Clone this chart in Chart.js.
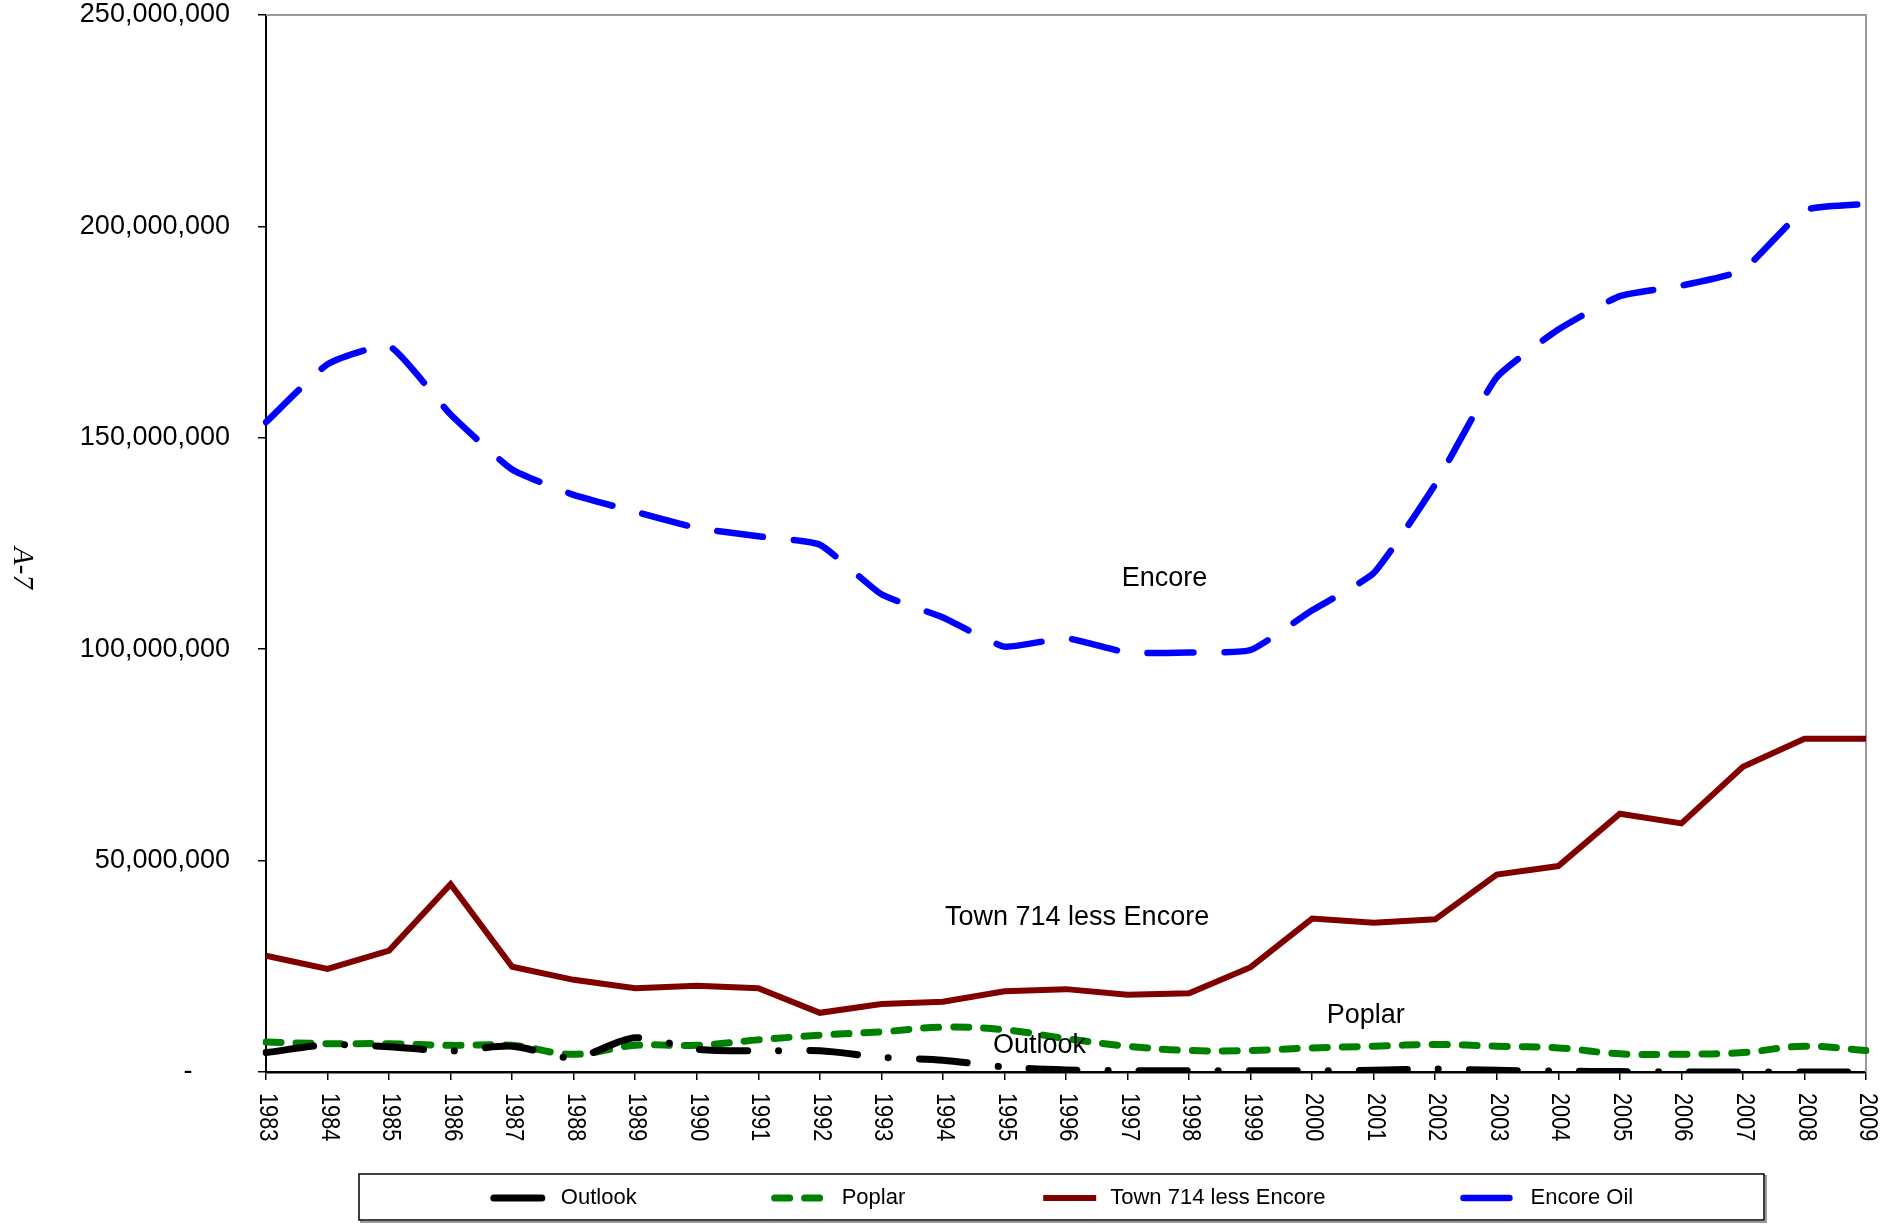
<!DOCTYPE html>
<html>
<head>
<meta charset="utf-8">
<title>Outlook, Poplar, Town 714 less Encore, Encore Oil</title>
<script src="https://cdn.jsdelivr.net/npm/chart.js@4.4.1/dist/chart.umd.min.js"></script>
<style>
  html, body { margin: 0; padding: 0; background: #fff; }
  canvas { display: block; }
</style>
</head>
<body>
<canvas id="chart" width="1902" height="1225"></canvas>
<script>
// categories (x axis)
const years = ['1983', '1984', '1985', '1986', '1987', '1988', '1989', '1990', '1991',
  '1992', '1993', '1994', '1995', '1996', '1997', '1998', '1999', '2000', '2001',
  '2002', '2003', '2004', '2005', '2006', '2007', '2008', '2009'];

// series values
const outlook = [4600000, 6400000, 6000000, 5000000, 6100000, 3400000, 8100000, 5400000,
  5000000, 5000000, 3500000, 2800000, 1200000, 500000, 300000, 300000, 300000, 300000,
  400000, 700000, 400000, 200000, 100000, 0, 0, 0, 0];
const poplar = [7100000, 6700000, 6700000, 6300000, 6300000, 4200000, 6300000, 6300000,
  7600000, 8700000, 9500000, 10600000, 10000000, 7900000, 6100000, 5100000, 5100000,
  5700000, 6100000, 6500000, 6100000, 5700000, 4300000, 4200000, 4600000, 6100000, 5100000];
const town714 = [27500000, 24400000, 28700000, 44400000, 24900000, 21800000, 19800000,
  20400000, 19800000, 14000000, 16100000, 16600000, 19100000, 19600000, 18300000,
  18600000, 24800000, 36300000, 35300000, 36100000, 46700000, 48700000, 61100000,
  58800000, 72200000, 78800000, 78800000];
const encoreOil = [153700000, 167400000, 171700000, 155500000, 142500000, 136500000,
  132500000, 128700000, 126700000, 124700000, 113000000, 107500000, 100600000,
  102600000, 99200000, 99200000, 99800000, 109200000, 118000000, 139000000, 164300000,
  175600000, 183500000, 186000000, 189700000, 203800000, 205300000];

// y axis range / tick step
const yMax = 250000000;
const yStep = 50000000;

// text notes placed inside the plot (category index, value)
const noteText = ['Encore', 'Town 714 less Encore', 'Poplar', 'Outlook'];
const noteX = [14.6, 13.18, 17.87, 12.57];
const noteY = [116700000, 36600000, 13400000, 6200000];

const sideLabel = 'A-7';

const SANS = '"Liberation Sans", Arial, sans-serif';

// grey frame on the top and right side of the plot area
const framePlugin = {
  id: 'frame',
  beforeDatasetsDraw(chart) {
    const { ctx, chartArea: a } = chart;
    ctx.save();
    ctx.strokeStyle = '#9a9a9a';
    ctx.lineWidth = 2;
    ctx.beginPath();
    ctx.moveTo(a.left, a.top);
    ctx.lineTo(a.right, a.top);
    ctx.lineTo(a.right, a.bottom);
    ctx.stroke();
    ctx.restore();
  }
};

// year labels, turned to read top to bottom (a bit condensed like the original)
const yearLabelsPlugin = {
  id: 'yearLabels',
  afterDraw(chart) {
    const { ctx, chartArea: a } = chart;
    const xs = chart.scales.x;
    ctx.save();
    ctx.fillStyle = '#000';
    ctx.font = '25px ' + SANS;
    ctx.textAlign = 'left';
    ctx.textBaseline = 'middle';
    years.forEach((y, i) => {
      ctx.save();
      ctx.translate(xs.getPixelForValue(i) + 1, a.bottom + 21);
      ctx.rotate(Math.PI / 2);
      ctx.scale(0.87, 1);
      ctx.fillText(y, 0, 0);
      ctx.restore();
    });
    ctx.restore();
  }
};

// series names written in the plot + the "A-7" page mark
const notesPlugin = {
  id: 'notes',
  afterDraw(chart) {
    const { ctx } = chart;
    const xs = chart.scales.x, ys = chart.scales.y;
    ctx.save();
    ctx.fillStyle = '#000';
    ctx.font = '27px ' + SANS;
    ctx.textAlign = 'center';
    ctx.textBaseline = 'middle';
    noteText.forEach((t, i) => {
      ctx.fillText(t, xs.getPixelForValue(noteX[i]), ys.getPixelForValue(noteY[i]));
    });
    ctx.translate(22, 568);
    ctx.rotate(Math.PI / 2);
    ctx.font = 'italic 29px "Liberation Serif", "Times New Roman", serif';
    ctx.fillText(sideLabel, 0, 0);
    ctx.restore();
  }
};

// boxed legend under the chart
const boxLegendPlugin = {
  id: 'boxLegend',
  afterDraw(chart) {
    const { ctx } = chart;
    const box = { left: 359, top: 1174, width: 1405, height: 46 };
    const sample = 61, gap = 10, spacing = 134;
    ctx.save();
    ctx.strokeStyle = '#9a9a9a';
    ctx.lineWidth = 2;
    ctx.strokeRect(box.left + 2, box.top + 2, box.width, box.height);
    ctx.fillStyle = '#fff';
    ctx.fillRect(box.left, box.top, box.width, box.height);
    ctx.strokeStyle = '#000';
    ctx.lineWidth = 1.5;
    ctx.strokeRect(box.left, box.top, box.width, box.height);

    ctx.font = '22px ' + SANS;
    const sets = chart.data.datasets;
    const widths = sets.map(d => ctx.measureText(d.label).width);
    const total = widths.reduce((s, w) => s + w, 0) + sets.length * (sample + gap) + (sets.length - 1) * spacing;
    let x = box.left + (box.width - total) / 2;
    const cy = box.top + box.height / 2 + 1;
    sets.forEach((d, i) => {
      ctx.save();
      ctx.strokeStyle = d.borderColor;
      ctx.lineWidth = d.borderWidth;
      ctx.lineCap = d.borderCapStyle || 'butt';
      ctx.setLineDash(d.borderDash || []);
      ctx.beginPath();
      ctx.moveTo(x + 4, cy);
      ctx.lineTo(x + sample - 4, cy);
      ctx.stroke();
      ctx.restore();
      ctx.fillStyle = '#000';
      ctx.textAlign = 'left';
      ctx.textBaseline = 'middle';
      ctx.fillText(d.label, x + sample + gap, cy);
      x += sample + gap + widths[i] + spacing;
    });
    ctx.restore();
  }
};

new Chart(document.getElementById('chart'), {
  type: 'line',
  data: {
    labels: years,
    datasets: [
      {
        label: 'Outlook', data: outlook,
        borderColor: '#000000', borderWidth: 7, borderCapStyle: 'round',
        borderDash: [48, 31, 0.1, 31], tension: 0.3, pointRadius: 0
      },
      {
        label: 'Poplar', data: poplar,
        borderColor: '#008000', borderWidth: 7, borderCapStyle: 'round',
        borderDash: [15, 15], tension: 0.4, pointRadius: 0
      },
      {
        label: 'Town 714 less Encore', data: town714,
        borderColor: '#800000', borderWidth: 6, borderCapStyle: 'butt',
        tension: 0, pointRadius: 0
      },
      {
        label: 'Encore Oil', data: encoreOil,
        borderColor: '#0000ff', borderWidth: 6.5, borderCapStyle: 'round',
        borderDash: [46, 31], tension: 0.15, pointRadius: 0
      }
    ]
  },
  options: {
    responsive: false,
    devicePixelRatio: 1,
    animation: false,
    layout: { padding: { top: 15, right: 36, left: 0, bottom: 0 } },
    plugins: {
      legend: { display: false },
      tooltip: { enabled: false }
    },
    scales: {
      x: {
        offset: false,
        grid: { drawOnChartArea: false, drawTicks: true, tickLength: 8, color: '#000', lineWidth: 1.5 },
        border: { color: '#000', width: 2.5 },
        ticks: { display: false },
        afterFit(scale) {
          scale.height = 153;
          scale.paddingLeft = 0;
          scale.paddingRight = 0;
        }
      },
      y: {
        min: 0,
        max: yMax,
        grid: { drawOnChartArea: false, drawTicks: true, tickLength: 8, color: '#000', lineWidth: 1.5 },
        border: { color: '#000', width: 2 },
        ticks: {
          stepSize: yStep,
          padding: 28,
          color: '#000',
          font: { family: SANS, size: 27 },
          callback: v => v === 0 ? '-     ' : v.toLocaleString('en-US')
        },
        afterFit(scale) {
          scale.width = 266;
          scale.paddingTop = 0;
          scale.paddingBottom = 0;
        }
      }
    }
  },
  plugins: [framePlugin, yearLabelsPlugin, notesPlugin, boxLegendPlugin]
});
</script>
</body>
</html>
